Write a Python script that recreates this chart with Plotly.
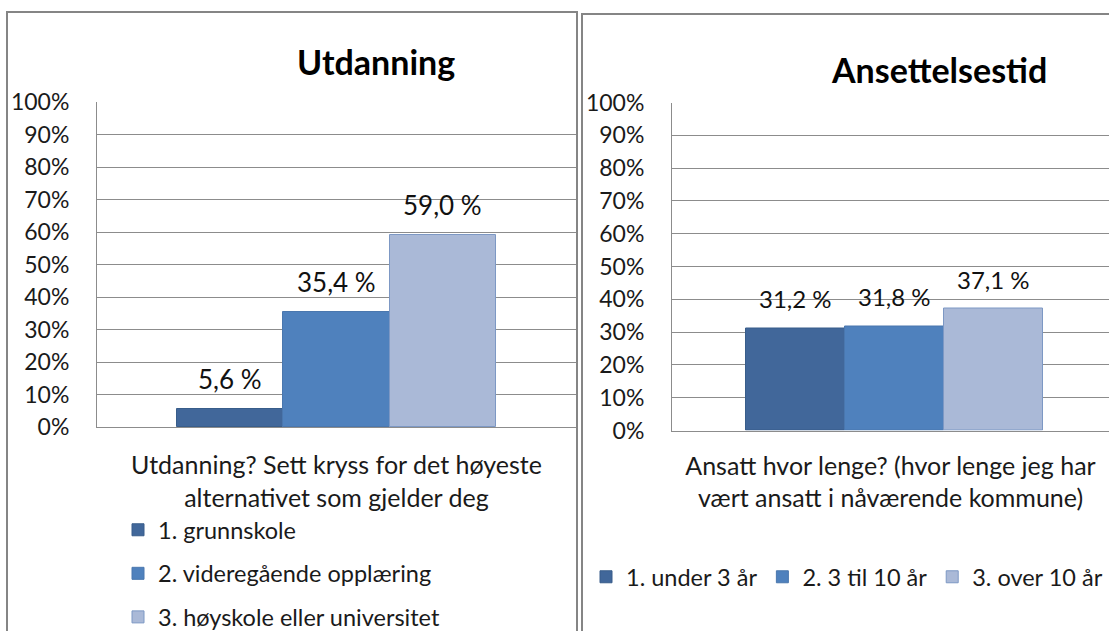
import plotly.graph_objects as go

# ---------------- data ----------------
edu_title = "Utdanning"
edu_question = "Utdanning? Sett kryss for det høyeste<br>alternativet som gjelder deg"
edu_categories = ["1. grunnskole", "2. videregående opplæring", "3. høyskole eller universitet"]
edu_values = [5.6, 35.4, 59.0]

emp_title = "Ansettelsestid"
emp_question = "Ansatt hvor lenge? (hvor lenge jeg har<br>vært ansatt i nåværende kommune)"
emp_categories = ["1. under 3 år", "2. 3 til 10 år", "3. over 10 år"]
emp_values = [31.2, 31.8, 37.1]

y_ticks = list(range(0, 101, 10))
y_tick_labels = [f"{t}%" for t in y_ticks]

# ---------------- style ----------------
W, H = 1109, 631
FONT = "Lato"
bar_colors = ["#41679A", "#4F81BD", "#AAB9D7"]
bar_lines = ["#385D8A", "#4A77AE", "#7D98C4"]
grid_col = "#8C8C8C"
frame_col = "#858585"


def fx(px):
    return px / W


def fy(py):
    return 1 - py / H


def pct(v):
    return f"{v:.1f}".replace(".", ",") + " %"


fig = go.Figure()

for i, (c, v) in enumerate(zip(edu_categories, edu_values)):
    fig.add_trace(go.Bar(
        x=[c], y=[v], name=c, xaxis="x", yaxis="y",
        marker=dict(color=bar_colors[i], line=dict(color=bar_lines[i], width=1)),
        legend="legend", legendgroup=f"e{i}", hoverinfo="skip",
    ))
for i, (c, v) in enumerate(zip(emp_categories, emp_values)):
    fig.add_trace(go.Bar(
        x=[c], y=[v], name=c, xaxis="x2", yaxis="y2",
        marker=dict(color=bar_colors[i], line=dict(color=bar_lines[i], width=1)),
        legend="legend2", hoverinfo="skip",
    ))

annotations = []
for c, v in zip(edu_categories, edu_values):
    annotations.append(dict(x=c, y=v, xref="x", yref="y", text=pct(v), showarrow=False,
                            yanchor="bottom", yshift=12,
                            font=dict(family=FONT, size=26, color="#111")))
for c, v in zip(emp_categories, emp_values):
    annotations.append(dict(x=c, y=v, xref="x2", yref="y2", text=pct(v), showarrow=False,
                            yanchor="bottom", yshift=13,
                            font=dict(family=FONT, size=24, color="#111")))
annotations.append(dict(x=fx(376), y=fy(62), xref="paper", yref="paper", text=f"<b>{edu_title}</b>",
                        showarrow=False, xanchor="center", yanchor="middle",
                        font=dict(family=FONT, size=34, color="#000")))
annotations.append(dict(x=fx(939), y=fy(70), xref="paper", yref="paper", text=f"<b>{emp_title}</b>",
                        showarrow=False, xanchor="center", yanchor="middle",
                        font=dict(family=FONT, size=34, color="#000")))

shapes = [
    dict(type="rect", xref="paper", yref="paper", x0=fx(7), x1=fx(577), y0=fy(700), y1=fy(12),
         line=dict(color=frame_col, width=2), layer="below"),
    dict(type="rect", xref="paper", yref="paper", x0=fx(582), x1=fx(1200), y0=fy(700), y1=fy(14),
         line=dict(color=frame_col, width=2), layer="below"),
]

yax = dict(range=[0, 100], tickvals=y_ticks, ticktext=y_tick_labels, showgrid=True,
           gridcolor=grid_col, gridwidth=1, showline=True, linecolor=grid_col, linewidth=1,
           ticks="", ticklabelstandoff=22, zeroline=False, automargin=False,
           tickfont=dict(family=FONT, size=23, color="#1A1A1A"), fixedrange=True)

fig.update_layout(
    width=W, height=H,
    margin=dict(l=0, r=0, t=0, b=0, autoexpand=False),
    paper_bgcolor="white", plot_bgcolor="white",
    barmode="group", bargap=0,
    font=dict(family=FONT, size=22, color="#1A1A1A"),
    xaxis=dict(domain=[fx(97), fx(576)], range=[-1.252, 3.252], showticklabels=False,
               showline=True, linecolor=grid_col, linewidth=1, showgrid=False, ticks="",
               automargin=False,
               title=dict(text=edu_question, standoff=29, font=dict(family=FONT, size=25, color="#1A1A1A")),
               fixedrange=True),
    yaxis=dict(domain=[fy(427), fy(102)], anchor="x", **yax),
    xaxis2=dict(domain=[fx(672), 1.0], range=[-1.247, 3.167], showticklabels=False, anchor="y2",
                showline=True, linecolor=grid_col, linewidth=1, showgrid=False, ticks="",
                automargin=False,
                title=dict(text=emp_question, standoff=26, font=dict(family=FONT, size=25, color="#1A1A1A")),
                fixedrange=True),
    yaxis2=dict(domain=[fy(430.5), fy(102.5)], anchor="x2", **yax),
    legend=dict(orientation="v", x=fx(118), y=fy(508), xanchor="left", yanchor="top",
                tracegroupgap=10, font=dict(family=FONT, size=23.5, color="#1A1A1A"),
                bgcolor="rgba(0,0,0,0)"),
    legend2=dict(orientation="h", x=fx(586), y=fy(577), xanchor="left", yanchor="middle",
                 font=dict(family=FONT, size=23.5, color="#1A1A1A"), bgcolor="rgba(0,0,0,0)"),
    annotations=annotations,
    shapes=shapes,
    showlegend=True,
)

fig.write_html("out.html", config={"displayModeBar": False},
               post_script="document.body.style.margin='0';document.body.style.overflow='hidden';")
